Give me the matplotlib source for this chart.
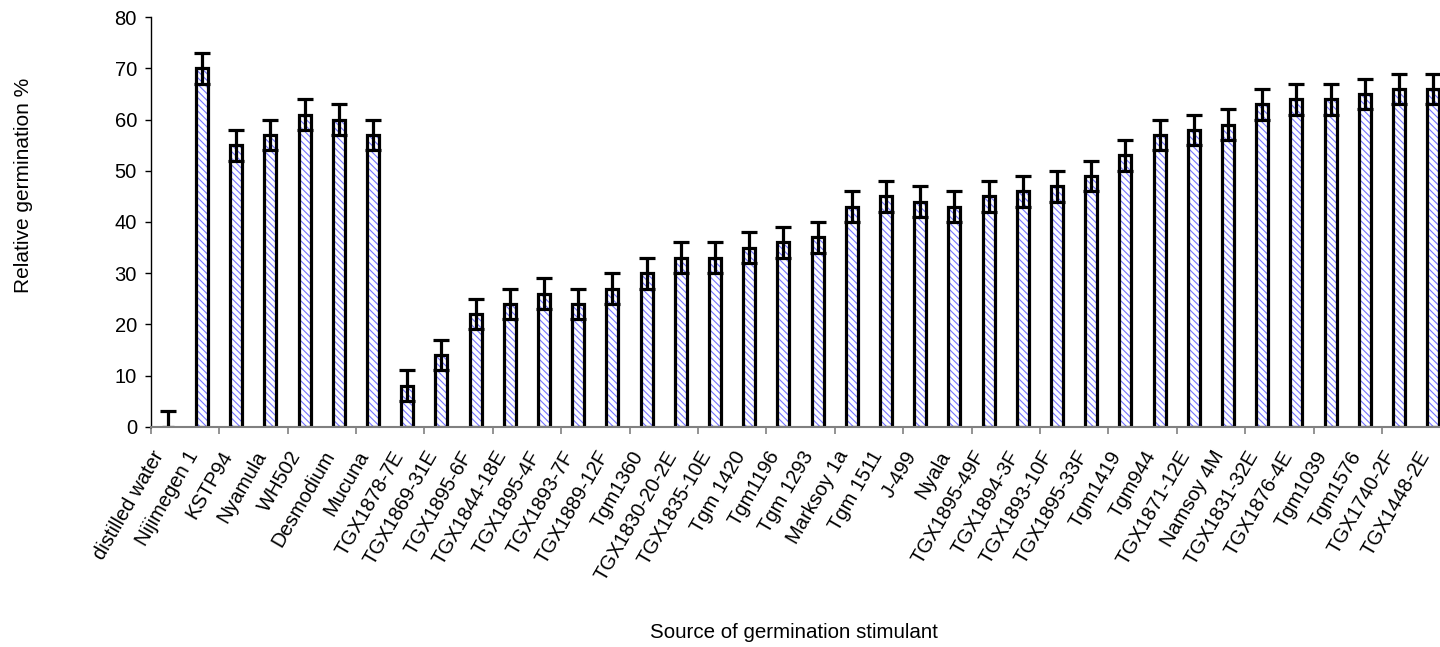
import numpy as np
import matplotlib.pyplot as plt

# Chart data
categories = ['distilled water', 'Nijimegen 1', 'KSTP94', 'Nyamula', 'WH502', 'Desmodium', 'Mucuna',
              'TGX1878-7E', 'TGX1869-31E', 'TGX1895-6F', 'TGX1844-18E', 'TGX1895-4F', 'TGX1893-7F',
              'TGX1889-12F', 'Tgm1360', 'TGX1830-20-2E', 'TGX1835-10E', 'Tgm 1420', 'Tgm1196', 'Tgm 1293',
              'Marksoy 1a', 'Tgm 1511', 'J-499', 'Nyala', 'TGX1895-49F', 'TGX1894-3F', 'TGX1893-10F',
              'TGX1895-33F', 'Tgm1419', 'Tgm944', 'TGX1871-12E', 'Namsoy 4M', 'TGX1831-32E', 'TGX1876-4E',
              'Tgm1039', 'Tgm1576', 'TGX1740-2F', 'TGX1448-2E']
germination = [0, 70, 55, 57, 61, 60, 57,
               8, 14, 22, 24, 26, 24,
               27, 30, 33, 33, 35, 36, 37,
               43, 45, 44, 43, 45, 46, 47,
               49, 53, 57, 58, 59, 63, 64,
               64, 65, 66, 66]
errors = [3, 3, 3, 3, 3, 3, 3,
          3, 3, 3, 3, 3, 3,
          3, 3, 3, 3, 3, 3, 3,
          3, 3, 3, 3, 3, 3, 3,
          3, 3, 3, 3, 3, 3, 3,
          3, 3, 3, 3]
y_ticks = [0, 10, 20, 30, 40, 50, 60, 70, 80]

plt.rcParams['font.family'] = ['Liberation Sans', 'DejaVu Sans']
plt.rcParams['hatch.linewidth'] = 0.8

fig = plt.figure(figsize=(14.4, 6.47), dpi=100)
# Axes runs a little past the right edge, like the cropped original
ax = fig.add_axes([0.1047, 0.3405, 0.9025, 0.6328])

x = np.arange(len(categories))
bar_w = 0.35

# Hatched fill first, then the black outline on top
ax.bar(x, germination, bar_w, color='white', edgecolor='#7474ff', hatch='\\\\\\\\\\', linewidth=0, zorder=1)
ax.bar(x, germination, bar_w, fill=False, edgecolor='black', linewidth=2.3, zorder=2)
ax.errorbar(x, germination, yerr=errors, fmt='none', ecolor='black', elinewidth=2.3,
            capsize=5.6, capthick=2.3, zorder=3)

ax.set_xlim(-0.5, len(categories) - 0.5)
ax.set_ylim(0, 80)
ax.set_yticks(y_ticks)
ax.tick_params(axis='y', labelsize=14.5, length=4, width=1, pad=6, color='black')

# Major ticks sit on every second category boundary, labels on the minor ticks
ax.set_xticks(np.arange(-0.5, len(categories), 2))
ax.set_xticklabels([])
ax.tick_params(axis='x', which='major', length=5, width=1.2, color='#808080')
ax.set_xticks(x, categories, minor=True)
ax.tick_params(axis='x', which='minor', length=0, pad=15, labelsize=14.5)
for lbl in ax.get_xticklabels(minor=True):
    lbl.set_rotation(60)
    lbl.set_ha('right')
    lbl.set_va('top')

ax.spines['top'].set_visible(False)
ax.spines['right'].set_visible(False)
ax.spines['left'].set_color('black')
ax.spines['left'].set_linewidth(1)
ax.spines['bottom'].set_color('#808080')
ax.spines['bottom'].set_linewidth(1.5)
ax.spines['bottom'].set_zorder(4)

fig.text(24 / 1440, 1 - 185 / 647, 'Relative germination %', rotation=90,
         ha='center', va='center', fontsize=15)
fig.text(794 / 1440, 1 - 632 / 647, 'Source of germination stimulant',
         ha='center', va='center', fontsize=14.8)

fig.savefig('out.png', dpi=100)
